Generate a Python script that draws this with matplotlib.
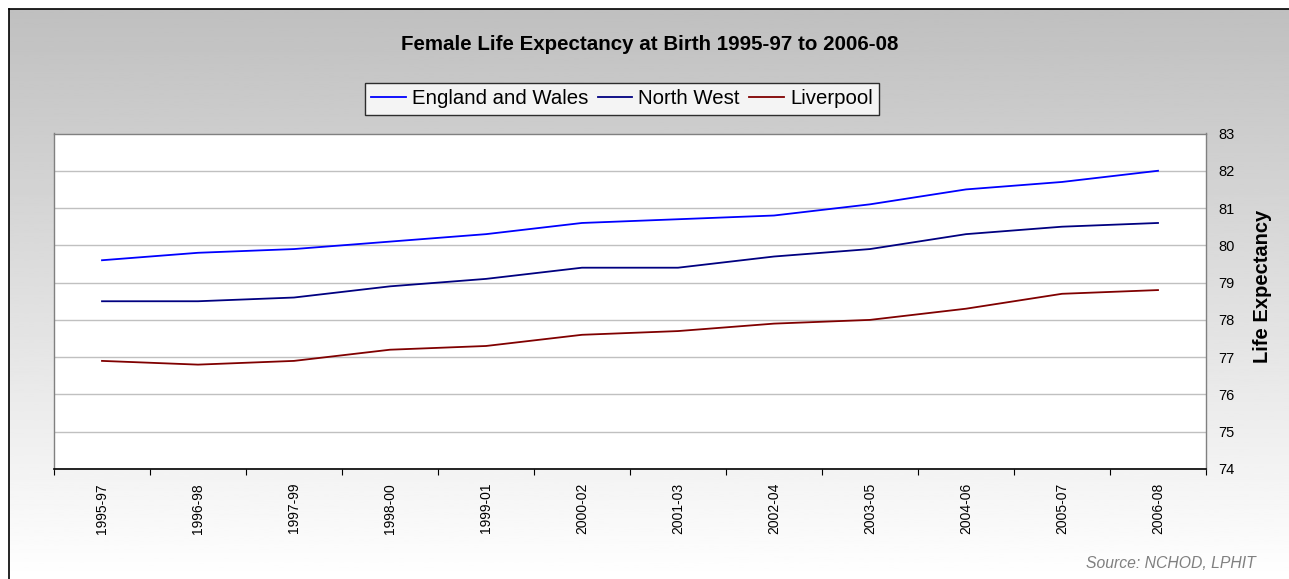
import matplotlib
matplotlib.use("Agg")
import matplotlib.pyplot as plt
import numpy as np

plt.rcParams['font.family'] = ['Liberation Sans', 'DejaVu Sans']

periods = ["1995-97", "1996-98", "1997-99", "1998-00", "1999-01", "2000-02",
           "2001-03", "2002-04", "2003-05", "2004-06", "2005-07", "2006-08"]
england_wales = [79.6, 79.8, 79.9, 80.1, 80.3, 80.6, 80.7, 80.8, 81.1, 81.5, 81.7, 82.0]
north_west = [78.5, 78.5, 78.6, 78.9, 79.1, 79.4, 79.4, 79.7, 79.9, 80.3, 80.5, 80.6]
liverpool = [76.9, 76.8, 76.9, 77.2, 77.3, 77.6, 77.7, 77.9, 78.0, 78.3, 78.7, 78.8]
series_names = ["England and Wales", "North West", "Liverpool"]
series_colors = ["#0000FF", "#000080", "#800000"]
y_ticks = [74, 75, 76, 77, 78, 79, 80, 81, 82, 83]

W, H = 1289, 579
fig = plt.figure(figsize=(W / 100, H / 100), dpi=100)
fig.patch.set_facecolor("white")

# background gradient chart area
bx0, by1 = 9 / W, 1 - 9 / H
bg = fig.add_axes([bx0, 0, 1 - bx0, by1], zorder=0)
grad = np.linspace(0.75, 1.0, 256).reshape(-1, 1)
bg.imshow(grad, aspect="auto", cmap="gray", vmin=0, vmax=1, extent=[0, 1, 0, 1], origin="upper")
bg.set_xlim(0, 1)
bg.set_ylim(0, 1)
bg.set_xticks([])
bg.set_yticks([])
for s in ["right", "bottom"]:
    bg.spines[s].set_visible(False)
for s in ["left", "top"]:
    bg.spines[s].set_color("black")
    bg.spines[s].set_linewidth(1.2)

ax = fig.add_axes([54 / W, 1 - 469 / H, (1206 - 54) / W, (469 - 133.5) / H], zorder=1)
ax.set_facecolor("white")
x = np.arange(len(periods))
for vals, name, col in zip([england_wales, north_west, liverpool], series_names, series_colors):
    ax.plot(x, vals, color=col, lw=1.3, label=name)

ax.set_xlim(-0.5, len(periods) - 0.5)
ax.set_ylim(74, 83)
ax.set_yticks(y_ticks)
ax.yaxis.tick_right()
ax.tick_params(axis="y", length=0, pad=9, labelsize=10.5, labelcolor="black")
ax.grid(axis="y", color="#c0c0c0", lw=1)
ax.set_axisbelow(True)

ax.set_xticks(np.arange(len(periods) + 1) - 0.5)
ax.set_xticklabels([])
ax.tick_params(axis="x", which="major", length=4, direction="out", color="black")
ax.set_xticks(x, minor=True)
ax.set_xticklabels(periods, minor=True, rotation=90, fontsize=10)
ax.tick_params(axis="x", which="minor", length=0, pad=10)

for s in ["left", "top", "right"]:
    ax.spines[s].set_color("#808080")
    ax.spines[s].set_linewidth(1)
ax.spines["bottom"].set_color("black")
ax.spines["bottom"].set_linewidth(1.2)

fig.text(650 / W, 1 - 44 / H, "Female Life Expectancy at Birth 1995-97 to 2006-08",
         ha="center", va="center", fontsize=14.8, fontweight="bold")

leg = fig.legend(loc="center", bbox_to_anchor=(622 / W, 1 - 99 / H), ncol=3, fontsize=14.7,
                 frameon=True, fancybox=False, edgecolor="black", handlelength=1.7,
                 handletextpad=0.3, columnspacing=0.45, borderpad=0.3)
leg.get_frame().set_linewidth(1)
leg.get_frame().set_facecolor("white")
leg.set_zorder(5)

fig.text(1262 / W, 1 - 286 / H, "Life Expectancy", rotation=90, ha="center", va="center",
         fontsize=14.5, fontweight="bold")
fig.text(1256 / W, 1 - 564 / H, "Source: NCHOD, LPHIT", ha="right", va="center",
         fontsize=11.3, style="italic", color="#808080")

fig.savefig("out.png", dpi=100)
